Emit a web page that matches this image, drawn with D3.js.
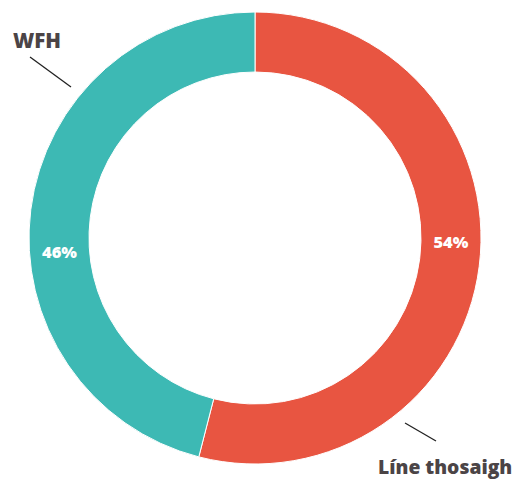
<!DOCTYPE html>
<html><head><meta charset="utf-8">
<script src="https://cdn.jsdelivr.net/npm/d3@7"></script>
<style>body{margin:0;background:#fff}svg{display:block}</style>
</head><body>
<svg id="c" width="516" height="480"></svg>
<script>
const categories = ["Líne thosaigh", "WFH"];
const values = [54, 46];
const colors = ["#E85541", "#3DB9B4"];
const pctLabels = ["54%", "46%"];

const svg = d3.select("#c");
const cx = 255, cy = 238, R = 226, r = 166;
const g = svg.append("g").attr("transform", `translate(${cx},${cy})`);
const pie = d3.pie().sort(null).value(d => d)(values);
const arc = d3.arc().innerRadius(r).outerRadius(R);
g.selectAll("path").data(pie).enter().append("path")
  .attr("d", arc).attr("fill", (d,i) => colors[i])
  .attr("stroke", "#fff").attr("stroke-width", 1);

const font = "'Open Sans', sans-serif";
// percentage labels near horizontal
const midR = (R + r) / 2;
const labelAng = [Math.PI/2 + 0.02, -Math.PI/2 - 0.07];
g.selectAll("text.pct").data(pie).enter().append("text")
  .attr("class","pct")
  .attr("x", (d,i) => midR * Math.sin(labelAng[i]))
  .attr("y", (d,i) => -midR * Math.cos(labelAng[i]))
  .attr("dy", "0.36em")
  .attr("text-anchor","middle")
  .attr("fill","#fff")
  .attr("font-family",font).attr("font-weight","800")
  .attr("font-size", 16.5).text((d,i) => pctLabels[i]);

// category labels with leader lines
svg.append("line").attr("x1",30).attr("y1",57).attr("x2",71).attr("y2",87)
  .attr("stroke","#222").attr("stroke-width",1.3);
svg.append("text").attr("x",13).attr("y",48).attr("fill","#4B4446")
  .attr("font-family",font).attr("font-weight","800")
  .attr("font-size",20.5).text(categories[1]);
svg.append("line").attr("x1",405).attr("y1",423).attr("x2",436).attr("y2",441)
  .attr("stroke","#222").attr("stroke-width",1.3);
svg.append("text").attr("x",378).attr("y",474).attr("fill","#4B4446")
  .attr("font-family",font).attr("font-weight","800")
  .attr("font-size",19.3)
  .text(categories[0]);
</script>
</body></html>
